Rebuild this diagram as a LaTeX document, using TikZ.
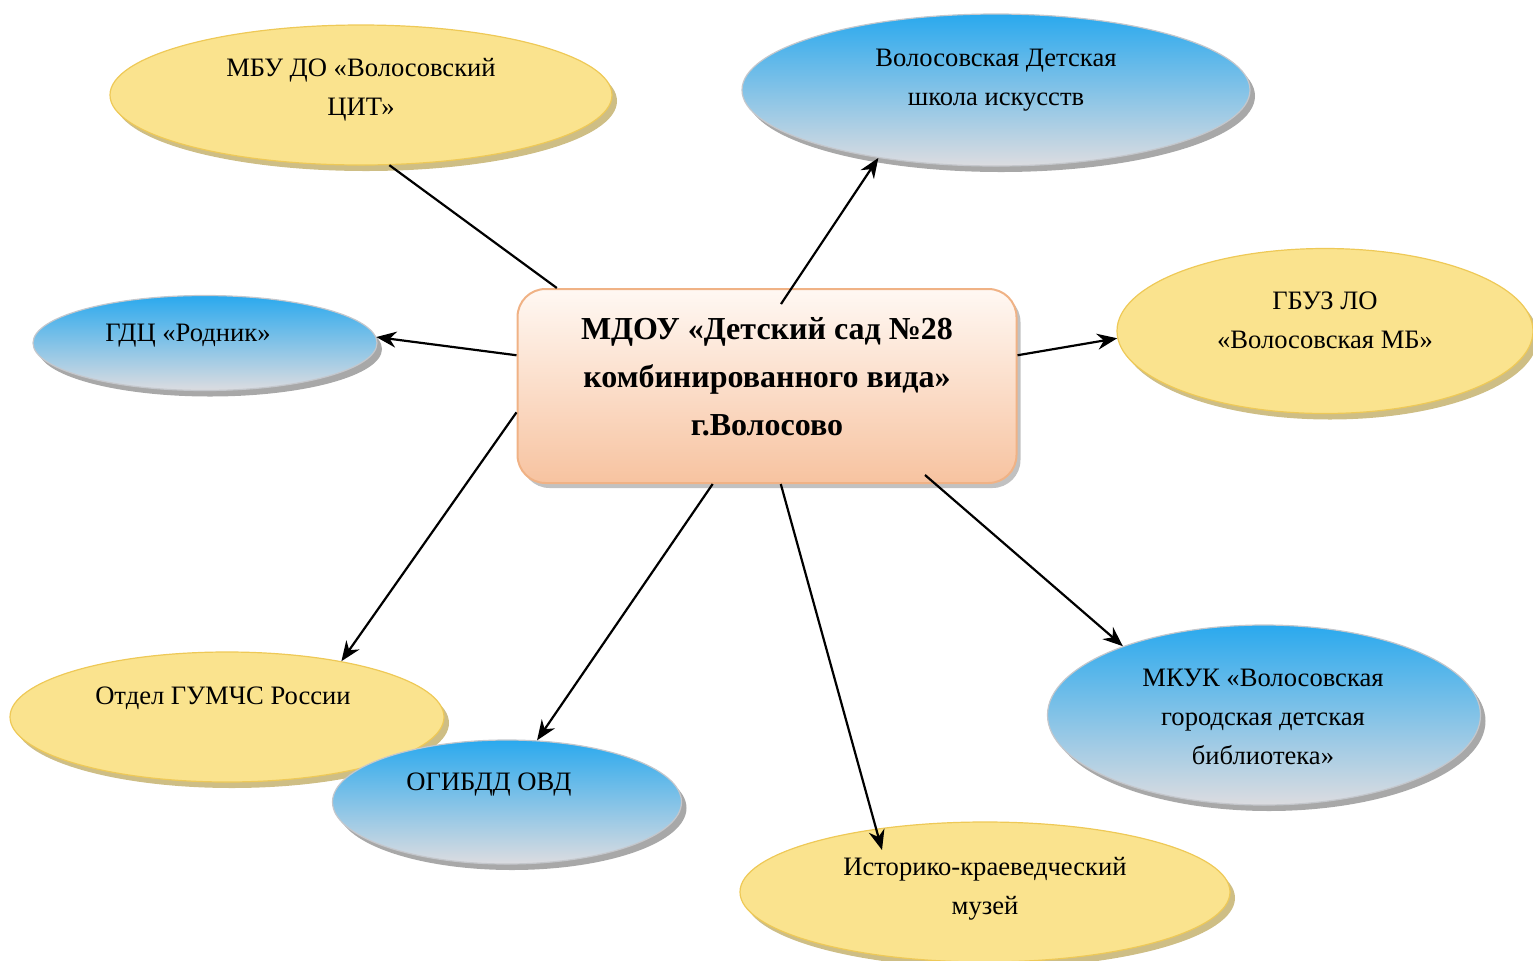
\documentclass[tikz,border=0pt]{standalone}
\usepackage{fontspec}
\setmainfont{Liberation Serif}
\usetikzlibrary{shapes.geometric,shadows,arrows.meta,calc}

\definecolor{ylwfill}{HTML}{FAE38E}
\definecolor{ylwline}{HTML}{EEC957}
\definecolor{ylwshade}{HTML}{C9B778}
\definecolor{blutop}{HTML}{2AA9EE}
\definecolor{blumid}{HTML}{92C4EC}
\definecolor{blubot}{HTML}{DCDCE0}
\definecolor{bluline}{HTML}{C4C7CC}
\definecolor{boxtop}{HTML}{FFF8F3}
\definecolor{boxbot}{HTML}{F7C3A0}
\definecolor{boxline}{HTML}{F0B285}

\tikzset{
  ell/.style={ellipse, inner sep=0pt, line width=0.6pt},
  yel/.style={ell, draw=ylwline, fill=ylwfill,
    drop shadow={fill=ylwshade, opacity=0.9, shadow xshift=2.5pt, shadow yshift=-3pt}},
  blu/.style={ell, draw=bluline, top color=blutop, middle color=blumid, bottom color=blubot,
    drop shadow={fill=gray!75, opacity=0.9, shadow xshift=2.5pt, shadow yshift=-3pt}},
  txt/.style={align=center, font=\fontsize{13.3}{19.5}\selectfont},
  link/.style={line width=1.1pt, -{Stealth[length=10pt,width=8pt]}},
}

\begin{document}
\begin{tikzpicture}[x=0.5pt, y=-0.5pt]
  \useasboundingbox (0,0) rectangle (1533,960);

  % partners
  \node[yel, minimum width=251pt, minimum height=70pt] (cit) at (361,95) {};
  \node[txt] (cit-t) at (361,90) {МБУ ДО «Волосовский\\ЦИТ»};

  \node[blu, minimum width=254pt, minimum height=76pt] (art) at (996,90) {};
  \node[txt] (art-t) at (996,80) {Волосовская Детская\\школа искусств};

  \node[blu, minimum width=172pt, minimum height=47.5pt] (rodnik) at (205,343) {};
  \node[txt] (rodnik-t) at (188,336) {ГДЦ «Родник»};

  \node[yel, minimum width=208pt, minimum height=82.5pt] (gbuz) at (1325,331) {};
  \node[txt] (gbuz-t) at (1325,320) {ГБУЗ ЛО\\«Волосовская МБ»};

  \node[yel, minimum width=217pt, minimum height=65pt] (gums) at (227,717) {};
  \node[txt] (gums-t) at (223,698) {Отдел ГУМЧС России};

  \node[blu, minimum width=174.5pt, minimum height=62pt] (gibdd) at (507,802) {};
  \node[txt] (gibdd-t) at (489,785) {ОГИБДД ОВД};

  \node[yel, minimum width=245pt, minimum height=70pt] (museum) at (985,892) {};
  \node[txt] (museum-t) at (985,889) {Историко-краеведческий\\музей};

  \node[blu, minimum width=216.5pt, minimum height=90pt] (mkuk) at (1264,715) {};
  \node[txt] (mkuk-t) at (1263,717) {МКУК «Волосовская\\городская детская\\библиотека»};

  % kindergarten
  \node[draw=boxline, line width=1pt, rounded corners=14pt, top color=boxtop, bottom color=boxbot,
    minimum width=249.5pt, minimum height=97pt,
    drop shadow={fill=gray!60, opacity=0.8, shadow xshift=2pt, shadow yshift=-2.5pt}] (box) at (767,386) {};
  \node[align=center, font=\bfseries\fontsize{16}{24}\selectfont] (box-t) at (767,377)
    {МДОУ «Детский сад №28\\комбинированного вида»\\г.Волосово};

  % links
  \draw[line width=1.1pt] (cit.292) -- (box.155);
  \draw[link] ($(box.north)+(14,16)$) -- (art.210);
  \draw[link] (box.173) -- (rodnik.2);
  \draw[link] (box.7) -- (gbuz.182);
  \draw[link] (box.186) -- (gums.26);
  \draw[link] (box.241) -- (gibdd.64);
  \draw[link] (box.278) -- ($(museum)+(-103,-42)$);
  \draw[link] ($(box.south)+(158,-9)$) -- (mkuk.154);
\end{tikzpicture}
\end{document}
